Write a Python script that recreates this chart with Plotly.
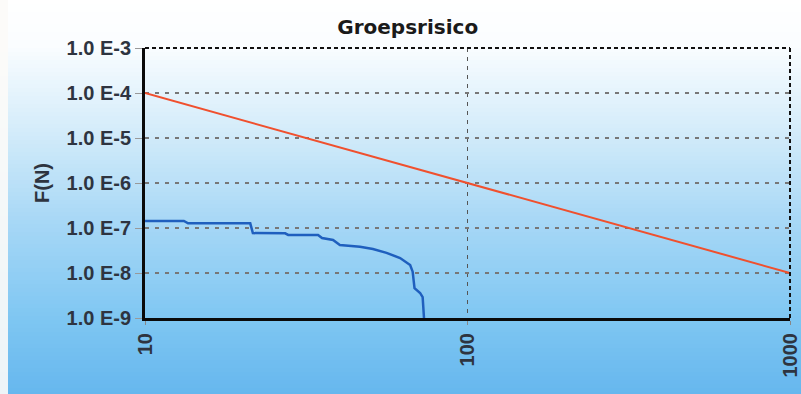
import plotly.graph_objects as go

# Groepsrisico: orientatiewaarde (red) and calculated FN-curve (blue)
norm_n = [10, 1000]
norm_f = [1e-4, 1e-8]

fn_n = [10, 13.2, 13.6, 21.2, 21.6, 27.2, 27.8, 34.4, 35.4, 38.3, 40.2, 46.4,
        50.9, 56.1, 61.8, 66.4, 67.6, 68.5, 71.3, 72.6, 73.3]
fn_f = [1.43e-7, 1.43e-7, 1.27e-7, 1.27e-7, 7.7e-8, 7.6e-8, 7.0e-8, 7.0e-8,
        6.0e-8, 5.4e-8, 4.2e-8, 3.84e-8, 3.4e-8, 2.8e-8, 2.15e-8, 1.5e-8,
        1.07e-8, 4.6e-9, 3.6e-9, 2.9e-9, 1e-9]

y_ticks = [1e-9, 1e-8, 1e-7, 1e-6, 1e-5, 1e-4, 1e-3]
y_labels = ['1.0 E-9', '1.0 E-8', '1.0 E-7', '1.0 E-6', '1.0 E-5', '1.0 E-4', '1.0 E-3']
x_ticks = [10, 100, 1000]
x_labels = ['10', '100', '1000']

W, H = 801, 394
L, R, T, B = 145, 11, 48, 76
pw, ph = W - L - R, H - T - B

# background gradient stops (pixel y, rgb)
stops = [(0, (255, 255, 255)), (45, (250, 253, 255)), (130, (212, 236, 250)),
         (220, (168, 216, 246)), (320, (126, 198, 242)), (394, (102, 183, 238))]


def grad(y):
    for (ya, ca), (yb, cb) in zip(stops[:-1], stops[1:]):
        if ya <= y <= yb:
            t = (y - ya) / (yb - ya)
            return tuple(int(round(ca[k] + (cb[k] - ca[k]) * t)) for k in range(3))
    return stops[-1][1]


def to_py(y_px):
    return 1 - (y_px - T) / ph


shapes = []
step = 4
for y in range(0, H + 2, step):
    c = grad(y + step / 2)
    shapes.append(dict(type='rect', xref='paper', yref='paper', layer='below',
                       x0=-0.3, x1=1.1, y0=to_py(y + step + 0.5), y1=to_py(y),
                       fillcolor='rgb(%d,%d,%d)' % c, line=dict(width=0)))
# whitish strip at the far left edge
shapes.append(dict(type='rect', xref='paper', yref='paper', layer='below',
                   x0=-L / pw, x1=(8 - L) / pw, y0=-0.3, y1=1.2,
                   fillcolor='rgba(252,251,248,0.9)', line=dict(width=0)))
# dashed top and right frame
shapes.append(dict(type='line', xref='paper', yref='paper', x0=0, x1=1, y0=1, y1=1,
                   line=dict(color='#111', width=2, dash='4px,3px')))
shapes.append(dict(type='line', xref='paper', yref='paper', x0=1, x1=1, y0=0, y1=1,
                   line=dict(color='#111', width=2, dash='4px,3px')))

fig = go.Figure()
fig.add_trace(go.Scatter(x=norm_n, y=norm_f, mode='lines',
                         line=dict(color='#f0502e', width=2), showlegend=False))
fig.add_trace(go.Scatter(x=fn_n, y=fn_f, mode='lines',
                         line=dict(color='#1f5fbe', width=2.5),
                         showlegend=False))

tick_font = dict(family='Liberation Sans, Arial', size=20, color='#2e3440',
                 weight='bold')

fig.update_layout(
    width=W, height=H,
    margin=dict(l=L, r=R, t=T, b=B),
    paper_bgcolor='white',
    plot_bgcolor='rgba(0,0,0,0)',
    shapes=shapes,
    title=dict(text='<b>Groepsrisico</b>', x=0.509, xanchor='center', y=0.932,
               yanchor='middle',
               font=dict(family='DejaVu Sans', size=20, color='#1a1a1a')),
    xaxis=dict(type='log', range=[1, 3], tickvals=x_ticks, ticktext=x_labels,
               tickangle=-90, tickfont=tick_font, ticks='outside', ticklen=4,
               tickcolor='#888', showline=True, linecolor='#0a0a0a', linewidth=3,
               showgrid=True, gridcolor='#555', griddash='4px,5px', gridwidth=1,
               automargin=False),
    yaxis=dict(type='log', range=[-9, -3], tickvals=y_ticks, ticktext=y_labels,
               tickfont=tick_font, ticks='outside', ticklen=7, tickcolor='#999',
               showline=True, linecolor='#0a0a0a', linewidth=3,
               showgrid=True, gridcolor='#777', griddash='4px,6px', gridwidth=1.5,
               automargin=False,
               title=dict(text='<b>F(N)</b>', standoff=12,
                          font=dict(family='Liberation Sans, Arial', size=20,
                                    color='#2e3440'))),
)

# drop the default 8px body margin so the chart fills the window
fig.write_html('out.html', config={'displayModeBar': False},
               post_script="document.body.style.margin='0';")
